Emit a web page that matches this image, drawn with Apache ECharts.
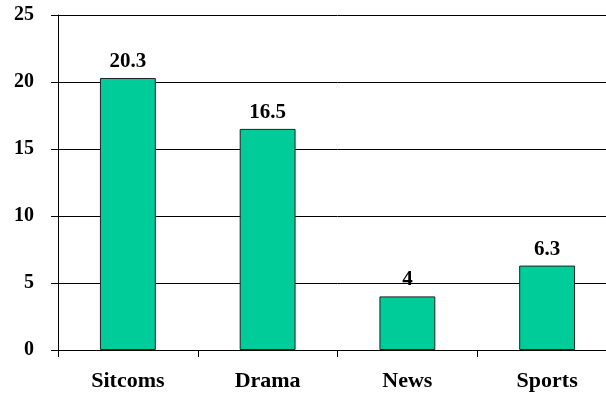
<!DOCTYPE html>
<html>
<head>
<meta charset="utf-8">
<script src="https://cdn.jsdelivr.net/npm/echarts@6/dist/echarts.min.js"></script>
<style>
  html, body { margin: 0; padding: 0; background: #fff; overflow: hidden; width: 606px; height: 393px; }
  #chart { width: 617px; height: 393px; }
</style>
</head>
<body>
<div id="chart"></div>
<script>
// Viewing hours by programme type
const categories = ['Sitcoms', 'Drama', 'News', 'Sports'];
const hours = [20.3, 16.5, 4, 6.3];
const yTicks = [0, 5, 10, 15, 20, 25];

const font = '"Liberation Serif", "Times New Roman", serif';

const chart = echarts.init(document.getElementById('chart'));
chart.setOption({
  animation: false,
  grid: { left: 58, right: 0, top: 15, bottom: 43, containLabel: false },
  xAxis: {
    type: 'category',
    data: categories,
    boundaryGap: true,
    axisLine: { lineStyle: { color: '#000', width: 1 } },
    axisTick: { show: true, length: 7, alignWithLabel: false, lineStyle: { color: '#000' } },
    axisLabel: { margin: 20, color: '#000', fontFamily: font, fontWeight: 'bold', fontSize: 22 }
  },
  yAxis: {
    type: 'value',
    min: yTicks[0],
    max: yTicks[yTicks.length - 1],
    interval: yTicks[1] - yTicks[0],
    axisLine: { show: true, lineStyle: { color: '#000', width: 1 } },
    axisTick: { show: true, length: 7, lineStyle: { color: '#000' } },
    splitLine: { show: true, lineStyle: { color: '#000', width: 1 } },
    axisLabel: { margin: 24, color: '#000', fontFamily: font, fontWeight: 'bold', fontSize: 20 }
  },
  series: [{
    type: 'bar',
    data: hours,
    barWidth: '40%',
    itemStyle: { color: '#00CC99', borderColor: '#222', borderWidth: 1 },
    label: {
      show: true,
      position: 'top',
      distance: 6,
      color: '#000',
      fontFamily: font,
      fontWeight: 'bold',
      fontSize: 21
    }
  }]
});
</script>
</body>
</html>
